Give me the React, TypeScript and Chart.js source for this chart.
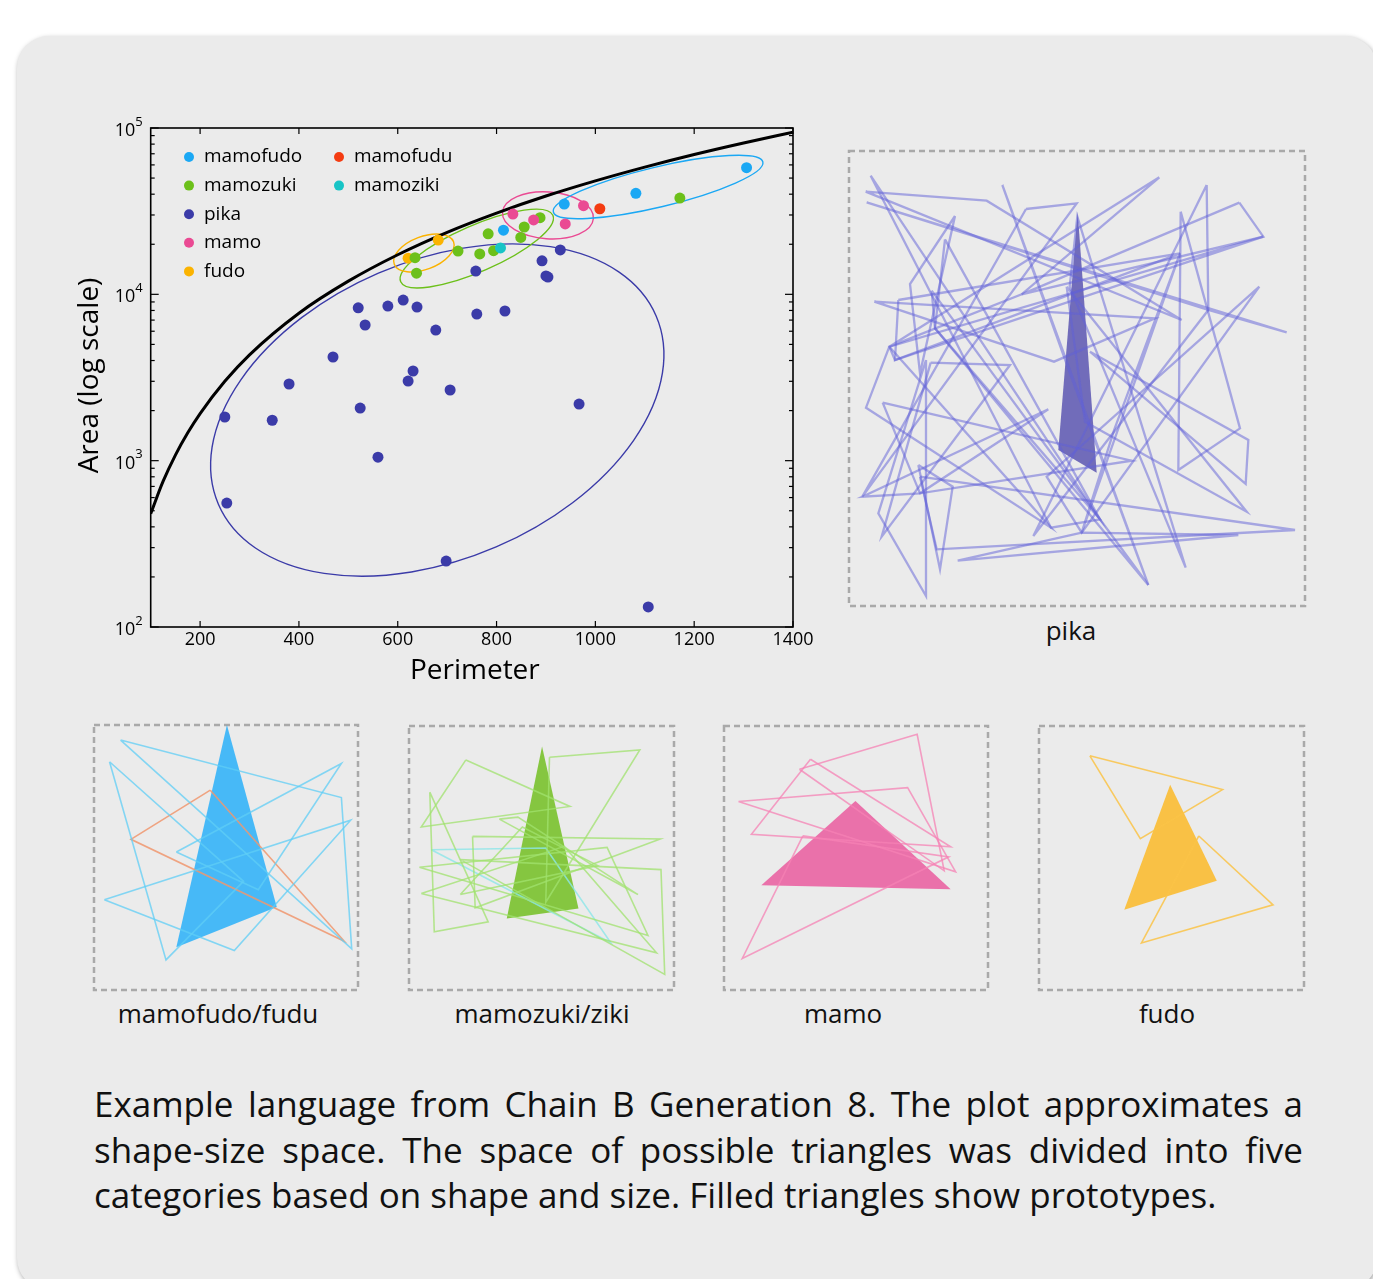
import React, { useEffect, useRef } from 'react';
import { Chart, registerables } from 'chart.js';

Chart.register(...registerables);

const FONT = '"Open Sans", "Noto Sans", sans-serif';

// ---------- main scatter: perimeter vs area ----------
const perimeterTicks = [200, 400, 600, 800, 1000, 1200, 1400];
const areaDecades = [2, 3, 4, 5];

const boundPerimeter = [100, 125, 150, 175, 200, 250, 300, 400, 500, 600, 700, 800, 900, 1000, 1100, 1200, 1300, 1400];
const boundArea = [480, 750, 1080, 1470, 1920, 3000, 4330, 7700, 12000, 17300, 23600, 30800, 39000, 48100, 58200, 69300, 81300, 94300];

const pikaPerimeter = [520, 580, 611, 639, 534, 677, 760, 817, 469, 631, 621, 706, 380, 250, 346, 524, 560, 254, 698, 967, 1107, 758, 892, 900, 904, 929];
const pikaArea = [8300, 8500, 9240, 8390, 6540, 6100, 7610, 7940, 4200, 3460, 3010, 2660, 2890, 1830, 1750, 2070, 1050, 556, 249, 2190, 132, 13800, 15900, 12900, 12700, 18500];

const mamozukiPerimeter = [635, 638, 722, 766, 794, 783, 849, 856, 888, 1171];
const mamozukiArea = [16600, 13400, 18200, 17500, 18300, 23100, 22000, 25400, 28900, 37900];

const mamozikiPerimeter = [808];
const mamozikiArea = [19000];

const mamofudoPerimeter = [1306, 1082, 937, 814];
const mamofudoArea = [57700, 40500, 34900, 24300];

const mamofuduPerimeter = [1009];
const mamofuduArea = [32700];

const mamoPerimeter = [833, 976, 875, 939];
const mamoArea = [30400, 34100, 28000, 26500];

const fudoPerimeter = [621, 682];
const fudoArea = [16500, 21200];

// ellipses: centre, end of major semi-axis, end of minor semi-axis (data coords)
const ellipseCategory = ['pika', 'mamozuki', 'fudo', 'mamo', 'mamofudo'];
const ellipseCenterPerimeter = [680, 760, 653, 904, 1127];
const ellipseCenterArea = [2015, 18860, 17720, 29850, 44180];
const ellipseMajorPerimeter = [1123, 914, 713, 996, 1339];
const ellipseMajorArea = [7416, 29850, 20690, 28570, 62460];
const ellipseMinorPerimeter = [800, 779, 665, 900, 1136];
const ellipseMinorArea = [303.5, 14080, 14330, 21600, 33730];

const legendCol1 = ['mamofudo', 'mamozuki', 'pika', 'mamo', 'fudo'];
const legendCol2 = ['mamofudu', 'mamoziki'];

const categoryColor: Record<string, string> = {
  mamofudo: '#1ba8f4',
  mamofudu: '#f43c12',
  mamozuki: '#6cc01a',
  mamoziki: '#18c4c6',
  pika: '#3b3ba8',
  mamo: '#ea4a93',
  fudo: '#fbb300',
};

// ---------- triangle panels (vertex lists x1,y1,x2,y2,x3,y3) ----------
const pikaBox = [27, 1395, 33, 1398];
const pikaPrototype = [713, 215, 655, 930, 770, 998];
const pikaTriangles = [
  [77, 155, 440, 182, 1025, 540],
  [80, 187, 1340, 577, 1105, 510],
  [92, 107, 780, 1138, 633, 1163],
  [958, 112, 148, 620, 545, 463],
  [1198, 188, 545, 463, 1270, 290],
  [1022, 215, 1015, 990, 1200, 865],
  [750, 635, 1225, 900, 1217, 1032],
  [680, 440, 735, 845, 1220, 1115],
  [103, 485, 945, 535, 642, 665],
  [175, 480, 165, 660, 1020, 340],
  [148, 620, 78, 803, 633, 1163],
  [258, 660, 258, 1368, 115, 1120],
  [272, 668, 510, 675, 125, 1190],
  [235, 975, 338, 1040, 300, 1288],
  [240, 1010, 1365, 1170, 290, 1228],
  [353, 1262, 1195, 1185, 725, 1178],
  [128, 788, 875, 962, 240, 1060],
  [625, 808, 240, 1060, 67, 1070],
  [345, 228, 210, 432, 240, 700],
  [315, 298, 780, 1138, 285, 565],
  [275, 452, 925, 1335, 285, 565],
  [558, 207, 710, 190, 67, 1070],
  [487, 135, 690, 700, 925, 1335],
  [1258, 440, 620, 1010, 725, 1178],
  [1100, 135, 1105, 510, 580, 1188],
  [823, 868, 1020, 340, 725, 1178],
  [1037, 1283, 689, 440, 712, 230],
  [1270, 290, 165, 660, 148, 620],
];

const mamofudoBox = [10, 725, 15, 808];
const mamofudoPrototype = [370, 15, 233, 680, 505, 560];
const mamofudoTriangles = [
  [82, 60, 680, 232, 708, 685],
  [52, 125, 205, 718, 415, 483],
  [38, 538, 705, 300, 390, 690],
  [233, 395, 680, 130, 455, 508],
];
const mamofuduTriangles = [[325, 210, 110, 357, 688, 662]];

const mamozukiBox = [862, 1575, 18, 812];
const mamozukiPrototype = [1220, 80, 1125, 597, 1318, 567];
const mamozukiTriangles = [
  [1015, 120, 895, 322, 1295, 260],
  [1240, 112, 1483, 90, 1230, 548],
  [918, 217, 930, 637, 1075, 607],
  [1105, 298, 1155, 292, 1478, 525],
  [1033, 350, 1040, 565, 1538, 358],
  [1000, 420, 1540, 450, 1550, 765],
  [890, 443, 1395, 383, 1505, 648],
  [895, 522, 1280, 380, 1528, 700],
  [1000, 525, 1370, 438, 1167, 322],
];
const mamozikiTriangles = [[922, 390, 1405, 670, 1230, 385]];

const mamoBox = [10, 703, 15, 808];
const mamoPrototype = [355, 240, 108, 493, 605, 505];
const mamoTriangles = [
  [208, 145, 517, 40, 588, 450],
  [237, 115, 82, 340, 605, 378],
  [48, 242, 492, 200, 618, 453],
  [217, 345, 58, 713, 600, 408],
];

const fudoBox = [835, 1528, 15, 812];
const fudoPrototype = [1178, 192, 1058, 570, 1300, 482];
const fudoTriangles = [
  [968, 105, 1315, 207, 1100, 355],
  [1253, 347, 1447, 555, 1103, 670],
];

const captionLines = [
  'Example language from Chain B Generation 8. The plot approximates a',
  'shape-size space. The space of possible triangles was divided into five',
  'categories based on shape and size. Filled triangles show prototypes.',
];

// ---------- helpers ----------
const pts = (xs: number[], ys: number[]) => xs.map((x, i) => ({ x, y: ys[i] }));
const triPts = (t: number[]) => [
  { x: t[0], y: t[1] },
  { x: t[2], y: t[3] },
  { x: t[4], y: t[5] },
  { x: t[0], y: t[1] },
];

const mainPlugin = {
  id: 'mainDecor',
  beforeDatasetsDraw(chart: any) {
    const { ctx, chartArea: a, scales } = chart;
    const x = scales.x;
    const y = scales.y;
    ctx.save();
    ctx.beginPath();
    ctx.rect(a.left, a.top, a.right - a.left, a.bottom - a.top);
    ctx.clip();
    ellipseCategory.forEach((cat, i) => {
      const cx = x.getPixelForValue(ellipseCenterPerimeter[i]);
      const cy = y.getPixelForValue(ellipseCenterArea[i]);
      const mx = x.getPixelForValue(ellipseMajorPerimeter[i]);
      const my = y.getPixelForValue(ellipseMajorArea[i]);
      const nx = x.getPixelForValue(ellipseMinorPerimeter[i]);
      const ny = y.getPixelForValue(ellipseMinorArea[i]);
      const rx = Math.hypot(mx - cx, my - cy);
      const ry = Math.hypot(nx - cx, ny - cy);
      const ang = Math.atan2(my - cy, mx - cx);
      ctx.beginPath();
      ctx.ellipse(cx, cy, rx, ry, ang, 0, Math.PI * 2);
      ctx.strokeStyle = categoryColor[cat];
      ctx.lineWidth = 1.4;
      ctx.stroke();
    });
    ctx.restore();
  },
  afterDraw(chart: any) {
    const { ctx, chartArea: a, scales } = chart;
    const x = scales.x;
    const y = scales.y;
    ctx.save();
    ctx.strokeStyle = '#000';
    ctx.lineWidth = 1.6;
    ctx.strokeRect(a.left, a.top, a.right - a.left, a.bottom - a.top);
    ctx.lineWidth = 1.2;
    const seg = (x1: number, y1: number, x2: number, y2: number) => {
      ctx.beginPath();
      ctx.moveTo(x1, y1);
      ctx.lineTo(x2, y2);
      ctx.stroke();
    };
    perimeterTicks.forEach((v) => {
      const px = x.getPixelForValue(v);
      seg(px, a.bottom, px, a.bottom - 6);
      seg(px, a.top, px, a.top + 6);
    });
    areaDecades.forEach((d) => {
      for (let k = 1; k <= 9; k++) {
        const val = k * Math.pow(10, d);
        if (val > y.max) break;
        const py = y.getPixelForValue(val);
        const len = k === 1 ? 8 : 4;
        seg(a.left, py, a.left + len, py);
        seg(a.right, py, a.right - len, py);
      }
    });
    ctx.fillStyle = '#000';
    ctx.font = `18px ${FONT}`;
    ctx.textAlign = 'center';
    ctx.textBaseline = 'middle';
    perimeterTicks.forEach((v) => {
      ctx.fillText(String(v), x.getPixelForValue(v), a.bottom + 13);
    });
    areaDecades.forEach((d) => {
      const py = y.getPixelForValue(Math.pow(10, d));
      ctx.font = `13px ${FONT}`;
      ctx.textAlign = 'right';
      const sup = String(d);
      const sw = ctx.measureText(sup).width;
      ctx.fillText(sup, a.left - 8, py - 6);
      ctx.font = `18px ${FONT}`;
      ctx.fillText('10', a.left - 8 - sw, py + 3);
    });
    ctx.font = `28px ${FONT}`;
    ctx.textAlign = 'center';
    ctx.fillText('Perimeter', (a.left + a.right) / 2 + 3, a.bottom + 44);
    ctx.save();
    ctx.translate(a.left - 61, (a.top + a.bottom) / 2 - 2);
    ctx.rotate(-Math.PI / 2);
    ctx.fillText('Area (log scale)', 0, 0);
    ctx.restore();
    // legend
    ctx.font = `19px ${FONT}`;
    ctx.textAlign = 'left';
    const drawCol = (names: string[], mx: number) => {
      names.forEach((n, i) => {
        const my = a.top + 29 + i * 28.6;
        ctx.beginPath();
        ctx.arc(mx, my, 5, 0, Math.PI * 2);
        ctx.fillStyle = categoryColor[n];
        ctx.fill();
        ctx.fillStyle = '#000';
        ctx.fillText(n, mx + 15, my);
      });
    };
    drawCol(legendCol1, a.left + 38.3);
    drawCol(legendCol2, a.left + 188.3);
    ctx.restore();
  },
};

function mainConfig(): any {
  const cat = (name: string, xs: number[], ys: number[]) => ({
    label: name,
    data: pts(xs, ys),
    backgroundColor: categoryColor[name],
    borderWidth: 0,
    pointRadius: 5.5,
    pointHoverRadius: 5.5,
  });
  return {
    type: 'scatter',
    data: {
      datasets: [
        cat('mamo', mamoPerimeter, mamoArea),
        cat('mamoziki', mamozikiPerimeter, mamozikiArea),
        cat('mamozuki', mamozukiPerimeter, mamozukiArea),
        cat('mamofudu', mamofuduPerimeter, mamofuduArea),
        cat('mamofudo', mamofudoPerimeter, mamofudoArea),
        cat('pika', pikaPerimeter, pikaArea),
        cat('fudo', fudoPerimeter, fudoArea),
        {
          label: 'bound',
          data: pts(boundPerimeter, boundArea),
          showLine: true,
          borderColor: '#000',
          borderWidth: 3,
          pointRadius: 0,
          cubicInterpolationMode: 'monotone',
          fill: false,
        },
      ],
    },
    options: {
      responsive: false,
      animation: false,
      devicePixelRatio: 1,
      events: [],
      layout: { padding: { left: 100.7, top: 28, right: 47, bottom: 83 } },
      scales: {
        x: { type: 'linear', min: 100, max: 1400, display: false },
        y: { type: 'logarithmic', min: 100, max: 100000, display: false },
      },
      plugins: { legend: { display: false }, tooltip: { enabled: false } },
    },
    plugins: [mainPlugin],
  };
}

const boxPlugin = {
  id: 'dashedBox',
  beforeDatasetsDraw(chart: any) {
    const { ctx, chartArea: a } = chart;
    ctx.save();
    ctx.strokeStyle = '#a9a9a9';
    ctx.lineWidth = 2.5;
    ctx.setLineDash([6, 4]);
    ctx.strokeRect(a.left, a.top, a.right - a.left, a.bottom - a.top);
    ctx.restore();
  },
};

type TriGroup = { tris: number[][]; color: string };

function panelConfig(box: number[], groups: TriGroup[], proto: number[], protoColor: string, lw: number): any {
  const datasets: any[] = [];
  groups.forEach((g) =>
    g.tris.forEach((t) =>
      datasets.push({
        data: triPts(t),
        showLine: true,
        borderColor: g.color,
        borderWidth: lw,
        pointRadius: 0,
        fill: false,
        tension: 0,
        borderJoinStyle: 'miter',
      })
    )
  );
  datasets.push({
    data: triPts(proto),
    showLine: true,
    borderWidth: 0,
    borderColor: 'rgba(0,0,0,0)',
    backgroundColor: protoColor,
    pointRadius: 0,
    fill: 'shape',
    tension: 0,
  });
  return {
    type: 'scatter',
    data: { datasets },
    options: {
      responsive: false,
      animation: false,
      devicePixelRatio: 1,
      events: [],
      layout: { padding: 4 },
      scales: {
        x: { type: 'linear', min: box[0], max: box[1], display: false },
        y: { type: 'linear', min: box[2], max: box[3], reverse: true, display: false },
      },
      plugins: { legend: { display: false }, tooltip: { enabled: false } },
    },
    plugins: [boxPlugin],
  };
}

function ChartCanvas({ make, left, top, width, height }: { make: () => any; left: number; top: number; width: number; height: number }) {
  const ref = useRef<HTMLCanvasElement>(null);
  useEffect(() => {
    const chart = new Chart(ref.current as HTMLCanvasElement, make());
    return () => chart.destroy();
  }, []);
  return (
    <canvas
      ref={ref}
      width={width}
      height={height}
      style={{ position: 'absolute', left, top, width, height }}
    />
  );
}

function Panel({ left, top, w, h, make }: { left: number; top: number; w: number; h: number; make: () => any }) {
  return <ChartCanvas make={make} left={left - 4} top={top - 4} width={w + 8} height={h + 8} />;
}

function Label({ text, cx, cy }: { text: string; cx: number; cy: number }) {
  return (
    <div
      style={{
        position: 'absolute',
        left: cx - 150,
        top: cy - 18,
        width: 300,
        height: 36,
        lineHeight: '36px',
        textAlign: 'center',
        fontFamily: FONT,
        fontSize: 26,
        color: '#111',
      }}
    >
      {text}
    </div>
  );
}

export default function App() {
  return (
    <div
      style={{
        position: 'absolute',
        left: 0,
        top: 0,
        width: 1373,
        height: 1279,
        overflow: 'hidden',
        background: '#ffffff',
      }}
    >
      <div
        style={{
          position: 'absolute',
          left: 17,
          top: 36,
          width: 1360,
          height: 1254,
          borderRadius: 32,
          background: '#ebebeb',
          boxShadow: '1px 2px 5px rgba(0,0,0,0.35)',
        }}
      />
      <ChartCanvas make={mainConfig} left={50} top={100} width={790} height={610} />
      <Panel
        left={849}
        top={151}
        w={456}
        h={455}
        make={() => panelConfig(pikaBox, [{ tris: pikaTriangles, color: 'rgba(95,95,215,0.5)' }], pikaPrototype, 'rgba(78,72,172,0.78)', 2.3)}
      />
      <Panel
        left={94}
        top={725}
        w={264}
        h={265}
        make={() =>
          panelConfig(
            mamofudoBox,
            [
              { tris: mamofudoTriangles, color: 'rgba(95,205,245,0.75)' },
              { tris: mamofuduTriangles, color: 'rgba(240,150,110,0.85)' },
            ],
            mamofudoPrototype,
            'rgba(30,172,250,0.8)',
            1.6
          )
        }
      />
      <Panel
        left={409}
        top={726}
        w={265}
        h={264}
        make={() =>
          panelConfig(
            mamozukiBox,
            [
              { tris: mamozukiTriangles, color: 'rgba(160,225,110,0.75)' },
              { tris: mamozikiTriangles, color: 'rgba(140,230,232,0.8)' },
            ],
            mamozukiPrototype,
            'rgba(118,192,40,0.88)',
            1.6
          )
        }
      />
      <Panel
        left={724}
        top={726}
        w={264}
        h={264}
        make={() =>
          panelConfig(mamoBox, [{ tris: mamoTriangles, color: 'rgba(245,130,180,0.75)' }], mamoPrototype, 'rgba(233,85,155,0.82)', 1.6)
        }
      />
      <Panel
        left={1039}
        top={726}
        w={265}
        h={264}
        make={() =>
          panelConfig(fudoBox, [{ tris: fudoTriangles, color: 'rgba(250,195,70,0.85)' }], fudoPrototype, 'rgba(250,187,45,0.88)', 1.6)
        }
      />
      <Label text="pika" cx={1071} cy={630} />
      <Label text="mamofudo/fudu" cx={218} cy={1013} />
      <Label text="mamozuki/ziki" cx={542} cy={1013} />
      <Label text="mamo" cx={843} cy={1013} />
      <Label text="fudo" cx={1167} cy={1013} />
      <div
        style={{
          position: 'absolute',
          left: 94,
          top: 1081,
          width: 1209,
          fontFamily: FONT,
          fontSize: 35,
          lineHeight: '45.5px',
          color: '#111',
        }}
      >
        {captionLines.map((l, i) => (
          <div
            key={i}
            style={{
              textAlign: i < captionLines.length - 1 ? 'justify' : 'left',
              textAlignLast: i < captionLines.length - 1 ? 'justify' : 'left',
              whiteSpace: 'nowrap',
            }}
          >
            {l}
          </div>
        ))}
      </div>
    </div>
  );
}
